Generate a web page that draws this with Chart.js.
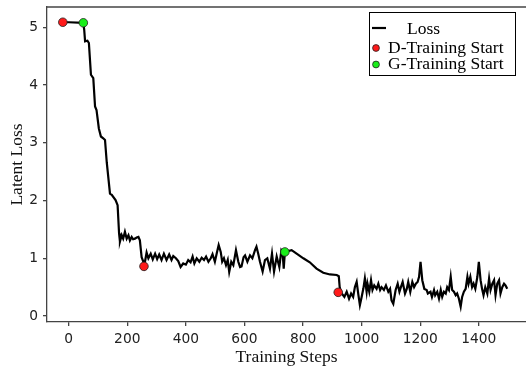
<!DOCTYPE html>
<html>
<head>
<meta charset="utf-8">
<script src="https://cdn.jsdelivr.net/npm/chart.js@4.4.1/dist/chart.umd.min.js"></script>
<style>
  html, body { margin: 0; padding: 0; background: #fff; }
  #wrap { width: 526px; height: 370px; }
</style>
</head>
<body>
<div id="wrap"><canvas id="grafico" width="526" height="370"></canvas></div>
<script>
// training steps and latent loss
let steps = [
  -20, 0, 50, 53, 56, 64, 69, 76, 84, 90, 95, 103, 110, 118, 124, 130, 141, 147,
  160, 167, 172, 175, 181, 186, 192, 198, 204, 209, 215, 220, 226, 232, 238, 243,
  249, 255, 258, 266, 272, 280, 287, 295, 302, 309, 317, 325, 334, 343, 351, 357,
  366, 374, 382, 391, 400, 408, 416, 423, 429, 437, 446, 454, 462, 469, 477, 485,
  491, 499, 507, 512, 519, 524, 530, 537, 543, 548, 555, 562, 571, 579, 585, 590,
  597, 602, 610, 619, 627, 636, 641, 647, 653, 662, 670, 678, 687, 694, 701, 710,
  719, 726, 730, 734, 738, 761, 778, 801, 823, 846, 869, 892,
  915, 922, 925, 932, 941, 949, 957, 964, 971, 977, 983, 989, 994, 1000, 1006,
  1011, 1017, 1020, 1026, 1032, 1037, 1043, 1051, 1057, 1063, 1068, 1076, 1083,
  1091, 1097, 1102, 1108, 1116, 1123, 1129, 1134, 1140, 1148, 1154, 1159, 1166,
  1173, 1179, 1185, 1191, 1196, 1201, 1207, 1214, 1222, 1226, 1235, 1240, 1247,
  1251, 1258, 1264, 1270, 1275, 1281, 1287, 1292, 1298, 1304, 1309, 1315, 1321,
  1326, 1332, 1338, 1343, 1349, 1355, 1361, 1365, 1371, 1377, 1382, 1388, 1395,
  1400, 1406, 1411, 1416, 1422, 1429, 1435, 1440, 1446, 1452, 1457, 1463, 1469,
  1474, 1480, 1486, 1491, 1497
];
let loss = [
  5.09, 5.09, 5.08, 4.96, 4.76, 4.77, 4.73, 4.18, 4.12, 3.63, 3.57, 3.25, 3.11, 3.08, 3.05, 2.66, 2.12, 2.10,
  2.01, 1.92, 1.43, 1.29, 1.40, 1.34, 1.46, 1.34, 1.40, 1.31, 1.37, 1.33, 1.34, 1.36, 1.37, 1.31,
  1.02, 0.94, 0.87, 1.10, 1.00, 1.08, 0.98, 1.08, 0.985, 1.065, 0.97, 1.08, 0.97, 1.065, 0.97, 1.04,
  1.00, 0.95, 0.85, 0.91, 0.89, 0.97, 0.93, 1.03, 0.91, 1.00, 0.94, 1.01, 0.97, 1.03, 0.94, 1.00,
  1.07, 0.94, 1.12, 1.23, 1.11, 0.94, 1.00, 0.88, 0.97, 0.765, 0.94, 0.88, 1.14, 0.94, 0.85, 0.86,
  1.02, 1.05, 0.94, 1.05, 1.00, 1.14, 1.20, 1.08, 0.94, 0.77, 0.97, 1.00, 0.82, 1.08, 0.77, 1.03,
  0.85, 1.14, 1.11, 0.82, 1.11, 1.14, 1.08, 1.00, 0.93, 0.82, 0.75, 0.72,
  0.71, 0.69, 0.50, 0.39, 0.33, 0.42, 0.30, 0.39, 0.33, 0.50, 0.59, 0.36, 0.19, 0.33, 0.48,
  0.65, 0.42, 0.56, 0.42, 0.62, 0.45, 0.53, 0.47, 0.56, 0.45, 0.50, 0.45, 0.53,
  0.42, 0.47, 0.27, 0.21, 0.45, 0.56, 0.42, 0.50, 0.59, 0.39, 0.47, 0.59, 0.42,
  0.59, 0.50, 0.56, 0.59, 0.68, 0.94, 0.62, 0.47, 0.45, 0.39, 0.42, 0.33, 0.45,
  0.36, 0.42, 0.30, 0.45, 0.33, 0.42, 0.39, 0.50, 0.45, 0.68, 0.45, 0.42, 0.36,
  0.39, 0.30, 0.16, 0.33, 0.42, 0.47, 0.68, 0.56, 0.68, 0.50, 0.56, 0.47, 0.68,
  0.94, 0.62, 0.47, 0.36, 0.50, 0.39, 0.65, 0.45, 0.56, 0.62, 0.36, 0.56, 0.62,
  0.39, 0.50, 0.56, 0.53, 0.47
];

let dStartSteps = [-20, 257, 920];
let dStartLoss = [5.09, 0.86, 0.41];
let gStartSteps = [50, 738];
let gStartLoss = [5.08, 1.11];

let xTicks = [0, 200, 400, 600, 800, 1000, 1200, 1400];
let yTicks = [0, 1, 2, 3, 4, 5];

let legendNomes = ["Loss", "D-Training Start", "G-Training Start"];

function juntar(xs, ys) {
  let pontos = [];
  for (let i = 0; i < xs.length; i++) {
    pontos.push({ x: xs[i], y: ys[i] });
  }
  return pontos;
}

let corSpine = "#444";
let fonteSerif = "'Liberation Serif', 'Times New Roman', serif";

// top spine + legend box drawn by hand, like matplotlib
let extras = {
  id: "extras",
  afterDraw(chart) {
    let ctx = chart.ctx;
    let area = chart.chartArea;
    ctx.save();
    ctx.strokeStyle = corSpine;
    ctx.lineWidth = 1.3;
    ctx.beginPath();
    ctx.moveTo(area.left, area.top);
    ctx.lineTo(area.right, area.top);
    ctx.stroke();

    // legend
    ctx.fillStyle = "#fff";
    ctx.fillRect(369.5, 12.5, 146, 63);
    ctx.strokeStyle = "#000";
    ctx.lineWidth = 1;
    ctx.strokeRect(369.5, 12.5, 146, 63);

    ctx.strokeStyle = "#000";
    ctx.lineWidth = 2.2;
    ctx.beginPath();
    ctx.moveTo(372, 28);
    ctx.lineTo(386, 28);
    ctx.stroke();

    let cores = ["#ff1a1a", "#1aee1a"];
    let ys = [48, 64.5];
    for (let i = 0; i < 2; i++) {
      ctx.beginPath();
      ctx.arc(376, ys[i], 3.4, 0, Math.PI * 2);
      ctx.fillStyle = cores[i];
      ctx.fill();
      ctx.lineWidth = 0.8;
      ctx.strokeStyle = "#222";
      ctx.stroke();
    }

    ctx.fillStyle = "#000";
    ctx.font = "17.5px " + fonteSerif;
    ctx.textBaseline = "alphabetic";
    ctx.textAlign = "left";
    ctx.fillText(legendNomes[0], 407, 33.5);
    ctx.fillText(legendNomes[1], 388, 52.8);
    ctx.fillText(legendNomes[2], 388, 69.2);
    ctx.restore();
  }
};

let ctx = document.getElementById("grafico");

new Chart(ctx, {
  type: "scatter",
  data: {
    datasets: [
      {
        label: legendNomes[1],
        data: juntar(dStartSteps, dStartLoss),
        backgroundColor: "#ff1a1a",
        borderColor: "#222",
        borderWidth: 0.8,
        pointRadius: 4.3,
        order: 0
      },
      {
        label: legendNomes[2],
        data: juntar(gStartSteps, gStartLoss),
        backgroundColor: "#1aee1a",
        borderColor: "#222",
        borderWidth: 0.8,
        pointRadius: 4.3,
        order: 0
      },
      {
        label: legendNomes[0],
        data: juntar(steps, loss),
        showLine: true,
        borderColor: "#000",
        borderWidth: 2.2,
        pointRadius: 0,
        tension: 0,
        order: 1
      }
    ]
  },
  options: {
    responsive: false,
    animation: false,
    layout: { autoPadding: false, padding: { top: 7, right: 0, left: 0, bottom: 0 } },
    plugins: {
      legend: { display: false },
      tooltip: { enabled: false }
    },
    scales: {
      x: {
        type: "linear",
        min: -74,
        max: 1561,
        afterBuildTicks: (s) => { s.ticks = xTicks.map((v) => ({ value: v })); },
        afterFit: (s) => { s.height = 48; s.paddingLeft = 0; s.paddingRight = 0; },
        grid: { drawOnChartArea: false, drawTicks: true, tickLength: 4, color: corSpine, lineWidth: 1.3 },
        border: { display: true, color: corSpine, width: 1.3 },
        ticks: {
          color: "#222",
          padding: 5,
          maxRotation: 0,
          callback: (v) => String(v),
          font: { family: "'DejaVu Sans'", size: 13.8 }
        },
        title: {
          display: true,
          text: "Training Steps",
          color: "#111",
          padding: { top: 0, bottom: 2 },
          font: { family: fonteSerif, size: 17.5 }
        }
      },
      y: {
        min: -0.104,
        max: 5.354,
        afterBuildTicks: (s) => { s.ticks = yTicks.map((v) => ({ value: v })); },
        afterFit: (s) => { s.width = 47; s.paddingTop = 0; s.paddingBottom = 0; },
        grid: { drawOnChartArea: false, drawTicks: true, tickLength: 4, color: corSpine, lineWidth: 1.3 },
        border: { display: true, color: corSpine, width: 1.3 },
        ticks: {
          color: "#222",
          padding: 5,
          callback: (v) => String(v),
          font: { family: "'DejaVu Sans'", size: 13.8 }
        },
        title: {
          display: true,
          text: "Latent Loss",
          color: "#111",
          padding: { top: 7, bottom: 0 },
          font: { family: fonteSerif, size: 17.5 }
        }
      }
    }
  },
  plugins: [extras]
});
</script>
</body>
</html>
